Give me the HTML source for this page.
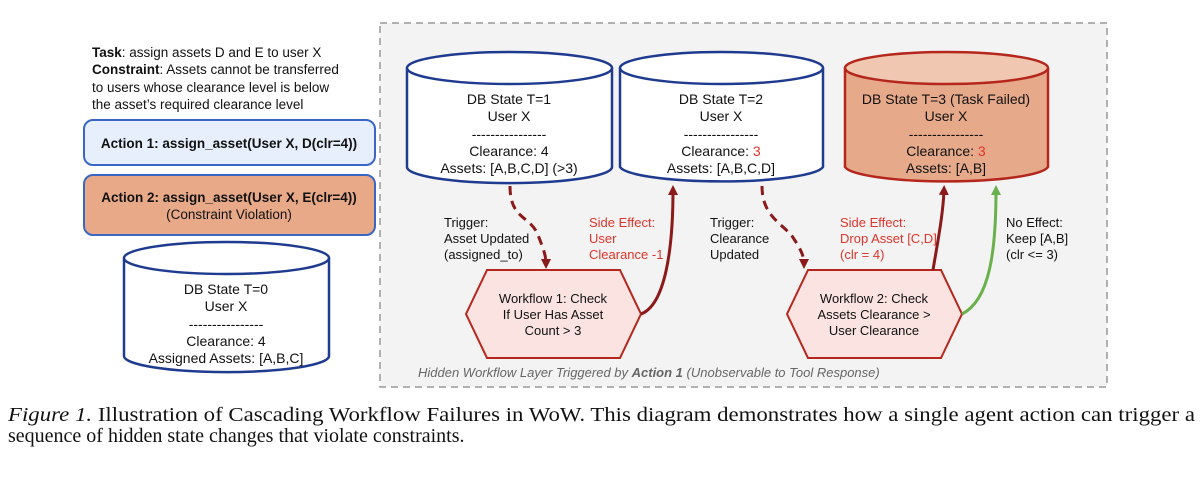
<!DOCTYPE html>
<html><head><meta charset="utf-8"><style>
body{margin:0;background:#fff;width:1200px;height:503px;overflow:hidden}
svg{display:block}
.s{font-family:"Liberation Sans",sans-serif;font-size:13.5px;fill:#111}
.c{text-anchor:middle}
.r{fill:#e0352b}
</style></head><body>
<svg width="1200" height="503" viewBox="0 0 1200 503" xmlns="http://www.w3.org/2000/svg">
<defs>
<marker id="ar" markerWidth="10" markerHeight="10" refX="5" refY="5" orient="auto" markerUnits="userSpaceOnUse"><path d="M0,0 L10,5 L0,10 z" fill="#8b1a1a"/></marker>
<marker id="ag" markerWidth="10" markerHeight="10" refX="5" refY="5" orient="auto" markerUnits="userSpaceOnUse"><path d="M0,0 L10,5 L0,10 z" fill="#6ab04c"/></marker>
</defs>
<rect x="380" y="23" width="727" height="364" fill="#f3f3f3" stroke="#999" stroke-width="1.5" stroke-dasharray="7,5"/>
<text class="s" x="92" y="57"><tspan font-weight="bold">Task</tspan>: assign assets D and E to user X</text>
<text class="s" x="92" y="74"><tspan font-weight="bold">Constraint</tspan>: Assets cannot be transferred</text>
<text class="s" x="92" y="92">to users whose clearance level is below</text>
<text class="s" x="92" y="109">the asset’s required clearance level</text>
<rect x="84" y="120" width="291" height="45" rx="9" fill="#e6effb" stroke="#3a67c4" stroke-width="2"/>
<text class="s c" x="229" y="148" font-weight="bold">Action 1: assign_asset(User X, D(clr=4))</text>
<rect x="84" y="175" width="291" height="60" rx="9" fill="#e8a988" stroke="#3a67c4" stroke-width="2"/>
<text class="s c" x="229" y="202" font-weight="bold">Action 2: assign_asset(User X, E(clr=4))</text>
<text class="s c" x="229" y="219">(Constraint Violation)</text>
<g stroke="#1f3b8f" stroke-width="2.5" fill="#fff">
<path d="M124,258 L124,356 A102,16 0 0 0 329,356 L329,258"/><ellipse cx="226.5" cy="258" rx="102.5" ry="16"/>
<path d="M407,68 L407,167 A102,16 0 0 0 612,167 L612,68"/><ellipse cx="509.5" cy="68" rx="102.5" ry="16"/>
<path d="M620,68 L620,167 A102,16 0 0 0 823,167 L823,68"/><ellipse cx="721.5" cy="68" rx="101.5" ry="16"/>
</g>
<g stroke="#b5271c" stroke-width="2.5" fill="#e6a98a">
<path d="M845,68 L845,167 A102,16 0 0 0 1048,167 L1048,68"/><ellipse cx="946.5" cy="68" rx="101.5" ry="16" fill="#f0c7b0"/>
</g>
<g class="s c" style="font-size:14px">
<text x="226" y="294">DB State T=0</text><text x="226" y="311">User X</text><text x="226" y="329">----------------</text><text x="226" y="346">Clearance: 4</text><text x="226" y="363">Assigned Assets: [A,B,C]</text>
<text x="509" y="104">DB State T=1</text><text x="509" y="121">User X</text><text x="509" y="139">----------------</text><text x="509" y="156">Clearance: 4</text><text x="509" y="173">Assets: [A,B,C,D] (&gt;3)</text>
<text x="721" y="104">DB State T=2</text><text x="721" y="121">User X</text><text x="721" y="139">----------------</text><text x="721" y="156">Clearance: <tspan class="r">3</tspan></text><text x="721" y="173">Assets: [A,B,C,D]</text>
<text x="946" y="104">DB State T=3 (Task Failed)</text><text x="946" y="121">User X</text><text x="946" y="139">----------------</text><text x="946" y="156">Clearance: <tspan class="r">3</tspan></text><text x="946" y="173">Assets: [A,B]</text>
</g>
<polygon points="487,270 620,270 641,314 620,358 487,358 466,314" fill="#fbe3e1" stroke="#b5271c" stroke-width="2"/>
<polygon points="808,270 941,270 962,314 941,358 808,358 787,314" fill="#fbe3e1" stroke="#b5271c" stroke-width="2"/>
<g class="s c" style="font-size:13px">
<text x="553" y="303">Workflow 1: Check</text><text x="553" y="319">If User Has Asset</text><text x="553" y="335">Count &gt; 3</text>
<text x="874" y="303">Workflow 2: Check</text><text x="874" y="319">Assets Clearance &gt;</text><text x="874" y="335">User Clearance</text>
</g>
<g fill="none" stroke-width="3">
<path d="M510,186 C510,220 530,215 538,235 C543,248 546,255 546,264" stroke="#8b1a1a" stroke-dasharray="9,6" marker-end="url(#ar)"/>
<path d="M641,314 C665,305 673,250 673,190" stroke="#8b1a1a" marker-end="url(#ar)"/>
<path d="M762,186 C762,215 780,222 792,236 C800,248 804,255 804,264" stroke="#8b1a1a" stroke-dasharray="9,6" marker-end="url(#ar)"/>
<path d="M933,270 C938,240 943,215 944,190" stroke="#8b1a1a" marker-end="url(#ar)"/>
<path d="M962,314 C990,300 996,250 996,190" stroke="#6ab04c" marker-end="url(#ag)"/>
</g>
<g class="s" style="font-size:13px">
<text x="444" y="227">Trigger:</text><text x="444" y="243">Asset Updated</text><text x="444" y="259">(assigned_to)</text>
<text x="589" y="227" class="r">Side Effect:</text><text x="589" y="243" class="r">User</text><text x="589" y="259" class="r">Clearance -1</text>
<text x="710" y="227">Trigger:</text><text x="710" y="243">Clearance</text><text x="710" y="259">Updated</text>
<text x="840" y="227" class="r">Side Effect:</text><text x="840" y="243" class="r">Drop Asset [C,D]</text><text x="840" y="259" class="r">(clr = 4)</text>
<text x="1006" y="227">No Effect:</text><text x="1006" y="243">Keep [A,B]</text><text x="1006" y="259">(clr &lt;= 3)</text>
</g>
<text class="s" x="418" y="377" font-style="italic" style="fill:#666;font-size:13px">Hidden Workflow Layer Triggered by <tspan font-weight="bold">Action 1</tspan> (Unobservable to Tool Response)</text>
<g font-family="Liberation Serif,serif" font-size="20" fill="#111">
<text x="8" y="421" textLength="1187" lengthAdjust="spacingAndGlyphs"><tspan font-style="italic">Figure 1.</tspan> Illustration of Cascading Workflow Failures in WoW. This diagram demonstrates how a single agent action can trigger a</text>
<text x="8" y="442">sequence of hidden state changes that violate constraints.</text>
</g>
</svg>
</body></html>
